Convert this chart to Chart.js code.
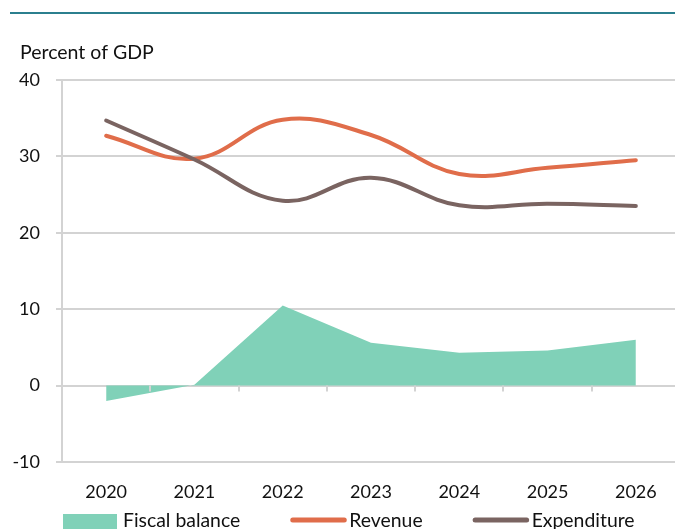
<!DOCTYPE html>
<html><head><meta charset="utf-8">
<script src="https://cdn.jsdelivr.net/npm/chart.js@4.4.1/dist/chart.umd.min.js"></script>
<style>html,body{margin:0;padding:0;overflow:hidden;background:#fff}#wrap{width:690px;height:529px}</style>
</head><body><div id="wrap"><canvas id="c" width="690" height="529"></canvas></div>
<script>
const years = ['2020', '2021', '2022', '2023', '2024', '2025', '2026'];
const fiscalBalance = [-2.0, 0.1, 10.5, 5.6, 4.3, 4.6, 6.0];
const revenue = [32.7, 29.7, 34.8, 32.8, 27.7, 28.5, 29.5];
const expenditure = [34.7, 29.6, 24.2, 27.2, 23.6, 23.8, 23.5];
const yTicks = [-10, 0, 10, 20, 30, 40];
const yTitle = 'Percent of GDP';

const FONT = 'Lato, "Noto Sans", sans-serif';
const GRID = '#d3d3d3';

const decor = {
  id: 'decor',
  beforeDraw(chart) {
    const ctx = chart.ctx;
    ctx.save();
    ctx.strokeStyle = '#2b7f8e';
    ctx.lineWidth = 2;
    ctx.beginPath(); ctx.moveTo(10, 13); ctx.lineTo(chart.width, 13); ctx.stroke();
    ctx.fillStyle = '#111';
    ctx.font = '19.5px ' + FONT;
    ctx.textBaseline = 'alphabetic';
    ctx.textAlign = 'left';
    ctx.fillText(yTitle, 20, 59);
    ctx.restore();
  },
  afterDatasetsDraw(chart) {
    const ctx = chart.ctx;
    const xs = chart.scales.x, ys = chart.scales.y;
    const y0 = ys.getPixelForValue(0);
    const step = xs.width / years.length;
    ctx.save();
    ctx.strokeStyle = GRID;
    ctx.lineWidth = 2;
    for (let k = 1; k < years.length; k++) {
      const x = Math.round(xs.left + k * step);
      ctx.beginPath(); ctx.moveTo(x, y0); ctx.lineTo(x, y0 + 6); ctx.stroke();
    }
    ctx.restore();
  },
  afterDraw(chart) {
    const ctx = chart.ctx;
    ctx.save();
    ctx.font = '19.4px ' + FONT;
    ctx.textBaseline = 'alphabetic';
    let x = 63;
    const yc = 520;
    chart.data.datasets.forEach((ds) => {
      let tx;
      if (ds.fill) {
        ctx.fillStyle = ds.backgroundColor;
        ctx.fillRect(x, 514, 54, 20);
        tx = x + 60;
      } else {
        ctx.strokeStyle = ds.borderColor;
        ctx.lineWidth = 5;
        ctx.lineCap = 'round';
        ctx.beginPath(); ctx.moveTo(x + 2.5, yc); ctx.lineTo(x + 54, yc); ctx.stroke();
        tx = x + 59;
      }
      ctx.fillStyle = '#111';
      ctx.fillText(ds.label, tx, 527);
      x = tx + ctx.measureText(ds.label).width + 50;
    });
    ctx.restore();
  }
};

new Chart(document.getElementById('c'), {
  type: 'line',
  data: {
    labels: years,
    datasets: [
      { label: 'Fiscal balance', data: fiscalBalance, fill: 'origin', backgroundColor: '#80d1b8', borderWidth: 0, borderColor: 'rgba(0,0,0,0)', tension: 0, pointRadius: 0, order: 3 },
      { label: 'Revenue', data: revenue, fill: false, borderColor: '#e06d4a', borderWidth: 4, borderCapStyle: 'round', tension: 0.4, pointRadius: 0, order: 2 },
      { label: 'Expenditure', data: expenditure, fill: false, borderColor: '#7a6461', borderWidth: 4, borderCapStyle: 'round', tension: 0.4, pointRadius: 0, order: 1 }
    ]
  },
  options: {
    responsive: false,
    animation: false,
    devicePixelRatio: 1,
    layout: { padding: { top: 80, left: 0, right: 10, bottom: 0 } },
    plugins: { legend: { display: false }, tooltip: { enabled: false }, title: { display: false } },
    scales: {
      x: {
        offset: true,
        grid: { display: false, drawTicks: false },
        border: { display: false },
        ticks: { color: '#111', font: { family: FONT, size: 18 }, padding: 19, maxRotation: 0 },
        afterFit: (s) => { s.height = 67; }
      },
      y: {
        min: -10, max: 40,
        afterBuildTicks: (s) => { s.ticks = yTicks.map(v => ({ value: v })); },
        grid: { color: GRID, lineWidth: 2, tickLength: 6 },
        border: { display: true, color: GRID, width: 2 },
        ticks: { color: '#111', font: { family: FONT, size: 18 }, padding: 16 },
        afterFit: (s) => { s.width = 62; }
      }
    }
  },
  plugins: [decor]
});
</script></body></html>
